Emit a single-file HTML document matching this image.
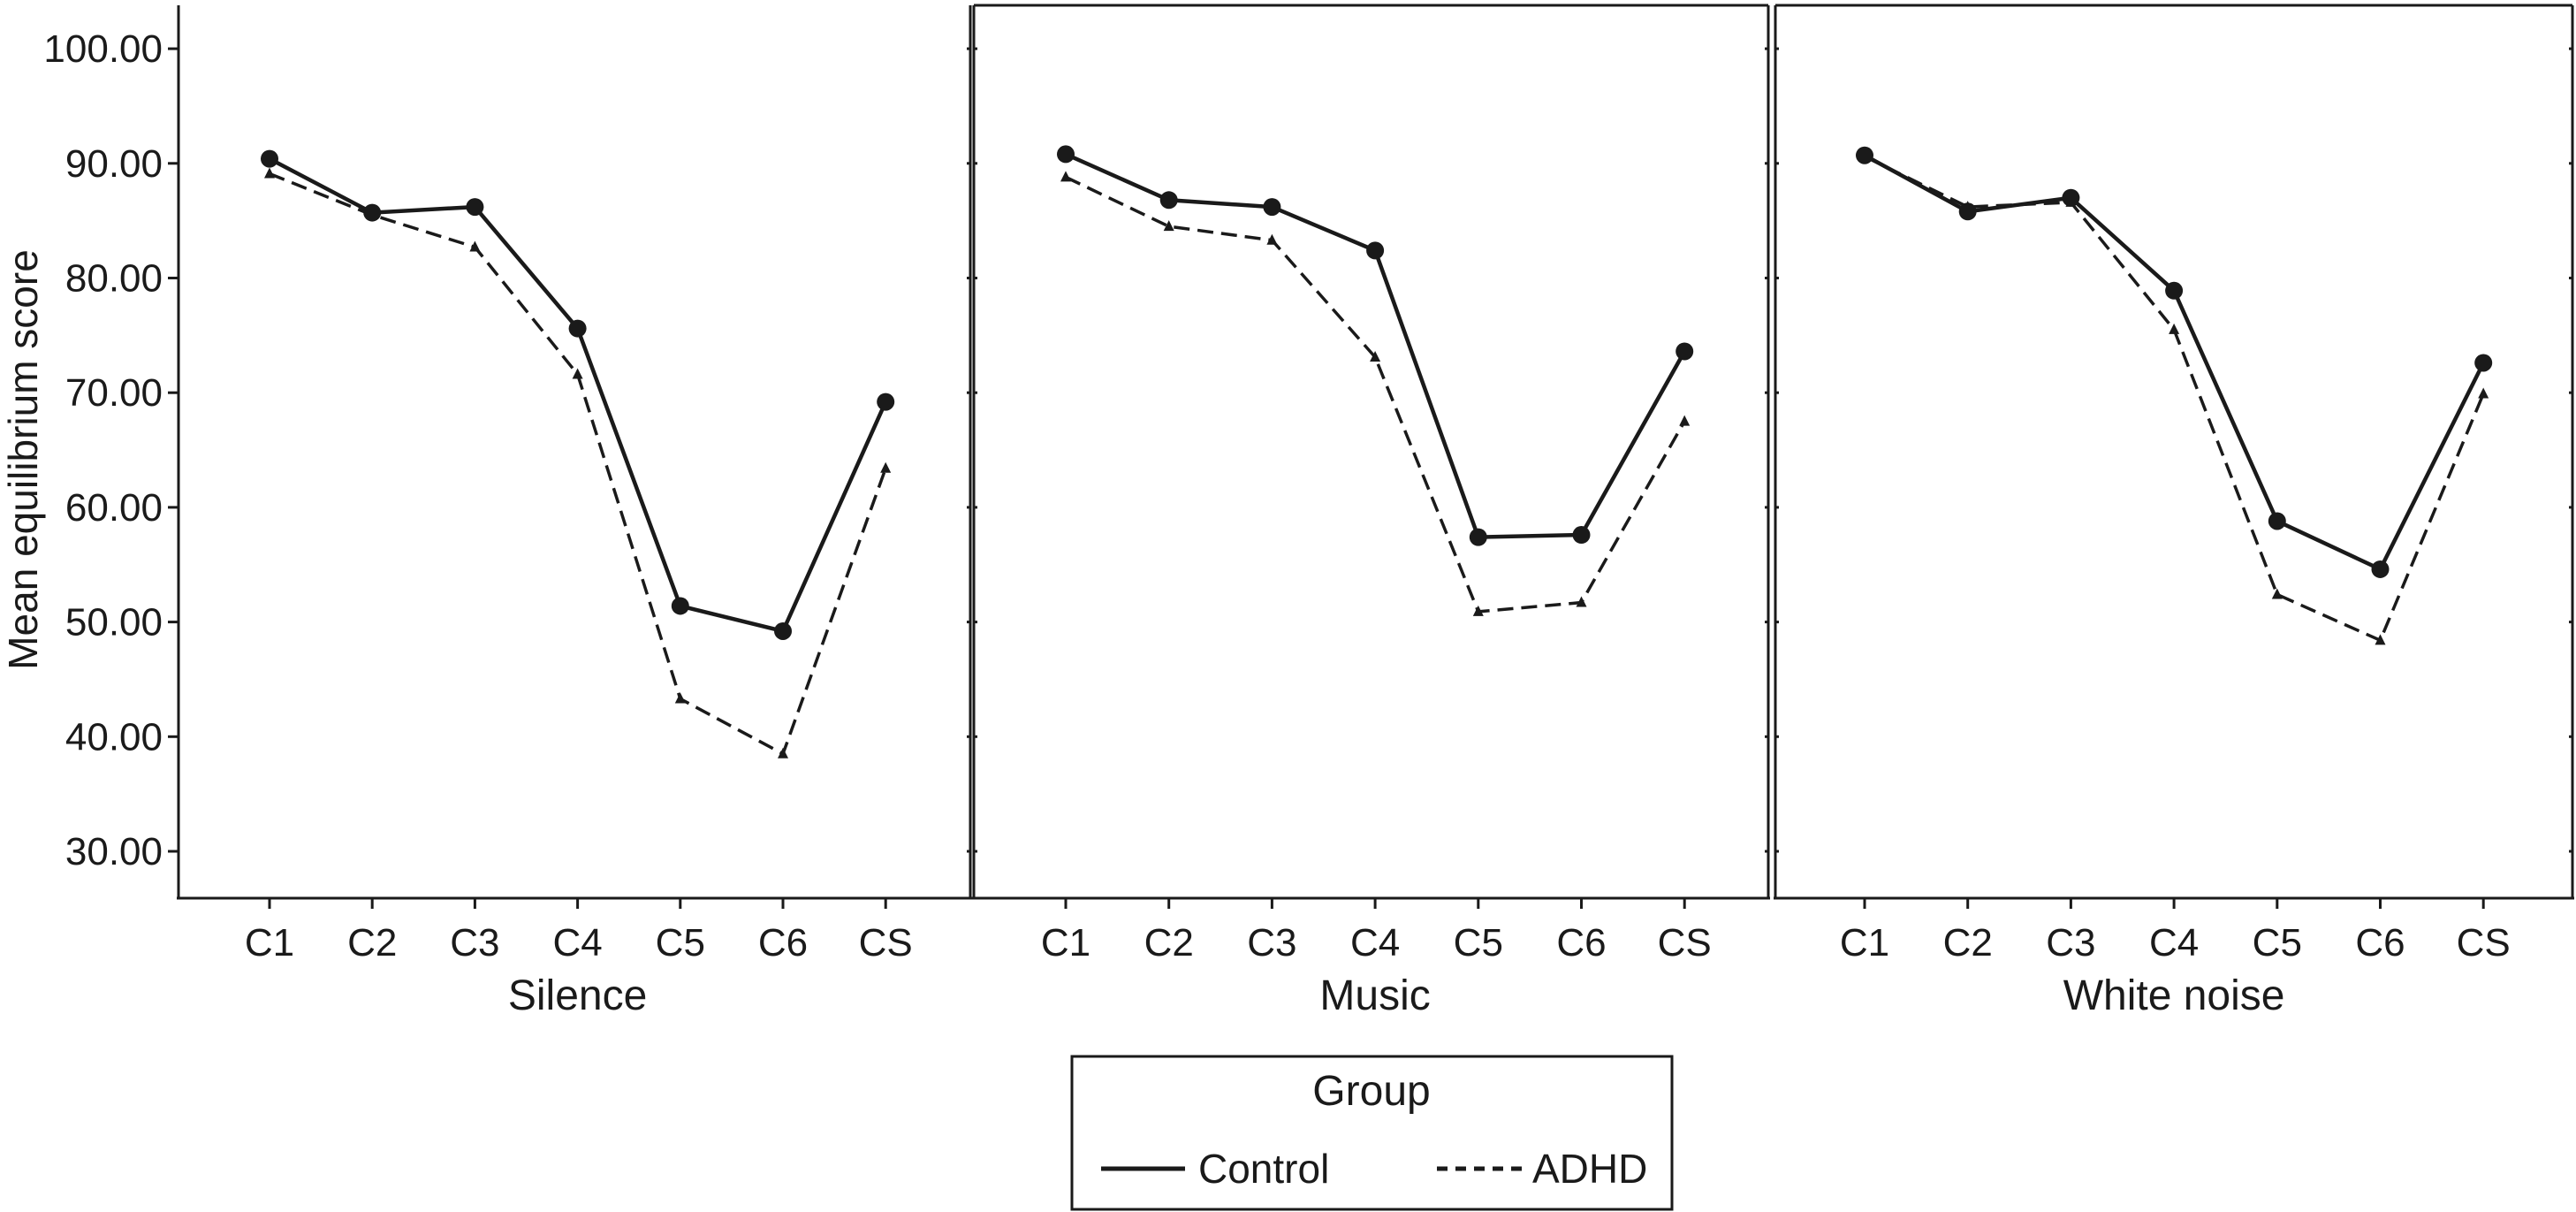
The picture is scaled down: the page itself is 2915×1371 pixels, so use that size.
<!DOCTYPE html>
<html><head><meta charset="utf-8"><style>
html,body{margin:0;padding:0;background:#fff;}
svg{display:block;font-family:"Liberation Sans",sans-serif;}
</style></head><body>
<svg id="chart" width="2915" height="1371" viewBox="0 0 2915 1371" xmlns="http://www.w3.org/2000/svg">
<text x="0" y="0" transform="translate(42,520) rotate(-90)" text-anchor="middle" font-size="46" fill="#1a1a1a">Mean equilibrium score</text>
<g id="legend">
<rect x="1213" y="1195" width="679" height="173" fill="#fff" stroke="#1a1a1a" stroke-width="3"/>
<text x="1552" y="1250" text-anchor="middle" font-size="48" fill="#1a1a1a">Group</text>
<line x1="1246" y1="1322" x2="1341" y2="1322" stroke="#1a1a1a" stroke-width="5"/>
<text x="1356" y="1338" font-size="46" fill="#1a1a1a">Control</text>
<line x1="1626" y1="1322" x2="1722" y2="1322" stroke="#1a1a1a" stroke-width="5" stroke-dasharray="12,9"/>
<text x="1734" y="1338" font-size="46" fill="#1a1a1a">ADHD</text>
</g>
</svg>
<script>
const categories = ["C1","C2","C3","C4","C5","C6","CS"];
const panelTitles = ["Silence","Music","White noise"];
const yTicks = [30,40,50,60,70,80,90,100];
const yTickLabels = ["30.00","40.00","50.00","60.00","70.00","80.00","90.00","100.00"];
const controlSilence = [90.4,85.7,86.2,75.6,51.4,49.2,69.2];
const adhdSilence = [89.1,85.5,82.7,71.6,43.3,38.5,63.4];
const controlMusic = [90.8,86.8,86.2,82.4,57.4,57.6,73.6];
const adhdMusic = [88.8,84.5,83.3,73.1,50.9,51.7,67.5];
const controlNoise = [90.7,85.8,87.0,78.9,58.8,54.6,72.6];
const adhdNoise = [90.6,86.2,86.6,75.5,52.4,48.4,69.9];

const svg = document.getElementById('chart');
const NS = "http://www.w3.org/2000/svg";
function mk(tag, attrs, parent){ const e=document.createElementNS(NS,tag); for(const k in attrs) e.setAttribute(k,attrs[k]); (parent||svg).appendChild(e); return e; }
const yScale = v => 963 - (v-30)*12.97;
const panels = [
 {left:202,right:1098,c1:305,step:116.2,top:false,ctl:controlSilence,adhd:adhdSilence},
 {left:1102,right:2001,c1:1206,step:116.7,top:true,ctl:controlMusic,adhd:adhdMusic},
 {left:2009,right:2911,c1:2110,step:116.7,top:true,ctl:controlNoise,adhd:adhdNoise}
];
const TOP=6, BOT=1016, C="#1a1a1a";
panels.forEach((p,pi)=>{
  const g = mk('g',{});
  
  
  const xs = i => p.c1 + i*p.step;
  mk('line',{x1:p.left,y1:TOP,x2:p.left,y2:BOT,stroke:C,'stroke-width':3},g);
  mk('line',{x1:p.right,y1:TOP,x2:p.right,y2:BOT,stroke:C,'stroke-width':3},g);
  mk('line',{x1:p.left-2,y1:BOT,x2:p.right+2,y2:BOT,stroke:C,'stroke-width':3},g);
  if(p.top) mk('line',{x1:p.left,y1:TOP,x2:p.right,y2:TOP,stroke:C,'stroke-width':3},g);
  yTicks.forEach((t,i)=>{
    const y=yScale(t);
    if(pi===0){
      mk('line',{x1:p.left-12,y1:y,x2:p.left,y2:y,stroke:C,'stroke-width':3},g);
      const tx=mk('text',{x:p.left-18,y:y+15,'text-anchor':'end','font-size':44,fill:C},g);
      tx.textContent=yTickLabels[i];
      
      
    } else {
      mk('line',{x1:p.left,y1:y,x2:p.left+4,y2:y,stroke:C,'stroke-width':3},g);
    }
    mk('line',{x1:p.right-4,y1:y,x2:p.right,y2:y,stroke:C,'stroke-width':3},g);
  });
  categories.forEach((c,i)=>{
    const x=xs(i);
    mk('line',{x1:x,y1:BOT,x2:x,y2:BOT+12,stroke:C,'stroke-width':3},g);
    const tx=mk('text',{x:x,y:1081,'text-anchor':'middle','font-size':44,fill:C},g);
    tx.textContent=c;
    
    
  });
  const tt=mk('text',{x:(xs(0)+xs(6))/2,y:1142,'text-anchor':'middle','font-size':48,fill:C},g);
  tt.textContent=panelTitles[pi];
  
  
  const ad=mk('polyline',{points:p.adhd.map((v,i)=>xs(i)+','+yScale(v)).join(' '),fill:'none',stroke:C,'stroke-width':3.5,'stroke-dasharray':'18,9'},g);
  
  
  p.adhd.forEach((v,i)=>{
    const x=xs(i),y=yScale(v);
    const m=mk('polygon',{points:`${x},${y-7} ${x-6},${y+5} ${x+6},${y+5}`,fill:C},g);
    
    
  });
  const cl=mk('polyline',{points:p.ctl.map((v,i)=>xs(i)+','+yScale(v)).join(' '),fill:'none',stroke:C,'stroke-width':4.5},g);
  
  
  p.ctl.forEach((v,i)=>{
    const m=mk('circle',{cx:xs(i),cy:yScale(v),r:10,fill:C},g);
    
    
  });
});
</script>
</body></html>
